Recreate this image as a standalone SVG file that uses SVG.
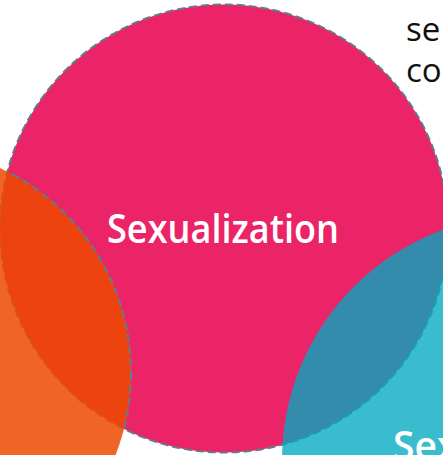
<svg xmlns="http://www.w3.org/2000/svg" width="443" height="455" viewBox="0 0 443 455">
<style>
.dash{fill:none;stroke:#607D8B;stroke-width:2;stroke-dasharray:8 4}
.lbl{font-family:"Open Sans","Liberation Sans",sans-serif;font-weight:600;font-size:39px;fill:#ffffff}
.side{font-family:"Open Sans","Liberation Sans",sans-serif;font-size:33px;fill:#111111}
</style>
<defs>
<clipPath id="inPink"><circle cx="224" cy="228.5" r="224"/></clipPath>
</defs>
<rect width="443" height="455" fill="#ffffff"/>
<g id="node-sexualization">
<circle cx="224" cy="228.5" r="224" fill="#EA2467"/>
<circle class="dash" cx="224" cy="228.5" r="224"/>
</g>
<g id="node-left">
<circle cx="-95" cy="373" r="226" fill="#ED4900" fill-opacity="0.85"/>
</g>
<g id="node-right">
<circle cx="527" cy="460" r="245" fill="#00A9C0" fill-opacity="0.78"/>
</g>
<g id="connectors">
<circle class="dash" cx="-95" cy="373" r="226" clip-path="url(#inPink)"/>
</g>
<g id="labels">
<text class="lbl" x="223" y="243" text-anchor="middle" textLength="232" lengthAdjust="spacingAndGlyphs">Sexualization</text>
<text class="lbl" x="393" y="460">Sex</text>
<text class="side" x="406" y="41">se</text>
<text class="side" x="406" y="82">co</text>
</g>
</svg>
